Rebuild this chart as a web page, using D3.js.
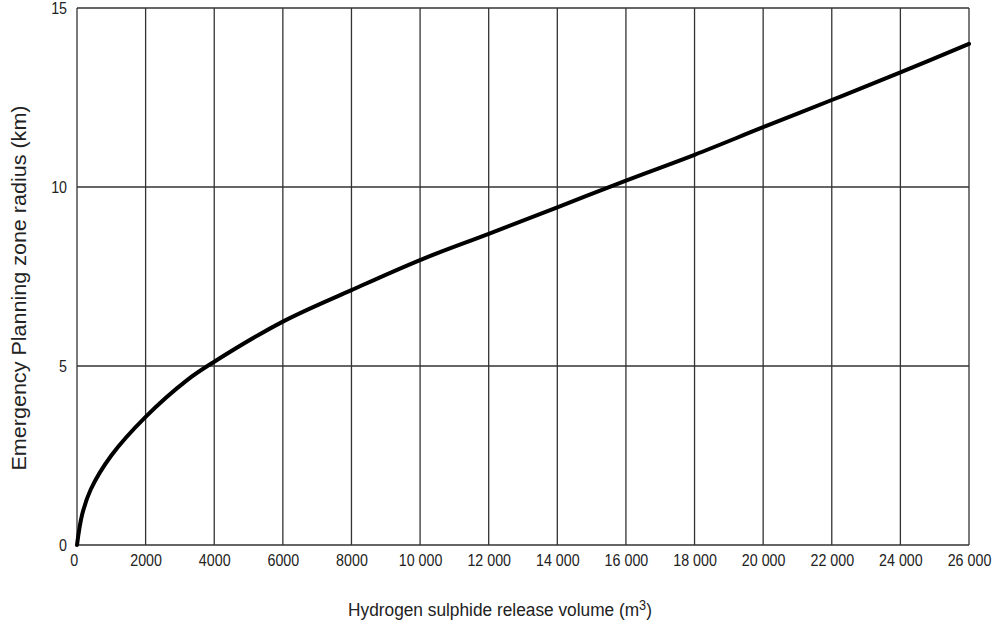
<!DOCTYPE html>
<html>
<head>
<meta charset="utf-8">
<script src="https://cdn.jsdelivr.net/npm/d3@7"></script>
<style>
  body { margin: 0; background: #fff; }
  text { font-family: 'Liberation Sans Narrow', 'Arial Narrow', 'Liberation Sans', Arial, sans-serif; fill: #222; }
</style>
</head>
<body>
<svg id="chart"></svg>
<script>
// release volume (m3)
const volumes = [0, 150, 400, 1000, 2000, 3200, 4000, 6000, 8000, 10000, 12000, 14000, 16000, 18000, 20000, 22000, 24000, 26000];
// emergency planning zone radius (km)
const radii = [0, 0.85, 1.55, 2.5, 3.58, 4.6, 5.12, 6.24, 7.12, 7.96, 8.69, 9.43, 10.18, 10.9, 11.67, 12.43, 13.2, 14.0];

const xTicks = [0, 2000, 4000, 6000, 8000, 10000, 12000, 14000, 16000, 18000, 20000, 22000, 24000, 26000];
const xTickLabels = ['0', '2000', '4000', '6000', '8000', '10 000', '12 000', '14 000', '16 000', '18 000', '20 000', '22 000', '24 000', '26 000'];
const yTicks = [0, 5, 10, 15];

const width = 995, height = 627;
const margin = {top: 8, right: 26, bottom: 82, left: 77};
const w = width - margin.left - margin.right;
const h = height - margin.top - margin.bottom;
const squeeze = 0.84; // narrow look of the original lettering

const svg = d3.select('#chart').attr('width', width).attr('height', height);
const g = svg.append('g').attr('transform', `translate(${margin.left},${margin.top})`);

const x = d3.scaleLinear().domain([0, 26000]).range([0, w]);
const y = d3.scaleLinear().domain([0, 15]).range([h, 0]);

// grid
g.append('g')
  .selectAll('line')
  .data(xTicks)
  .join('line')
  .attr('x1', d => x(d)).attr('x2', d => x(d))
  .attr('y1', 0).attr('y2', h)
  .attr('stroke', '#333').attr('stroke-width', 1.3);

g.append('g')
  .selectAll('line')
  .data(yTicks)
  .join('line')
  .attr('x1', 0).attr('x2', w)
  .attr('y1', d => y(d)).attr('y2', d => y(d))
  .attr('stroke', '#333').attr('stroke-width', 1.3);

// axes (labels only)
const xAxis = g.append('g')
  .attr('transform', `translate(0,${h})`)
  .call(d3.axisBottom(x).tickValues(xTicks).tickSize(0).tickPadding(9)
    .tickFormat((d, i) => xTickLabels[i]));
xAxis.select('.domain').remove();
xAxis.selectAll('text')
  .attr('font-size', 17).attr('font-family', null)
  .attr('transform', `scale(${squeeze},1)`);
xAxis.selectAll('.tick').filter(d => d === 0).select('text').attr('dx', -4);

const yAxis = g.append('g')
  .call(d3.axisLeft(y).tickValues(yTicks).tickSize(0));
yAxis.select('.domain').remove();
yAxis.selectAll('text')
  .attr('font-size', 17).attr('font-family', null)
  .attr('x', -10 / squeeze)
  .attr('transform', `scale(${squeeze},1)`);

// curve
const line = d3.line()
  .x((d, i) => x(volumes[i]))
  .y(d => y(d))
  .curve(d3.curveCatmullRom.alpha(0.5));

g.append('path')
  .datum(radii)
  .attr('d', line)
  .attr('fill', 'none')
  .attr('stroke', '#000')
  .attr('stroke-width', 4)
  .attr('stroke-linecap', 'round');

// titles
const xt = svg.append('text')
  .attr('transform', 'translate(500,616) scale(0.91,1)')
  .attr('text-anchor', 'middle')
  .attr('font-size', 19);
xt.append('tspan').text('Hydrogen sulphide release volume (m');
xt.append('tspan').attr('dy', -6).attr('font-size', 14).text('3');
xt.append('tspan').attr('dy', 6).text(')');

svg.append('text')
  .attr('transform', 'translate(26,288) rotate(-90)')
  .attr('text-anchor', 'middle')
  .attr('font-size', 20)
  .attr('textLength', 365)
  .attr('lengthAdjust', 'spacingAndGlyphs')
  .text('Emergency Planning zone radius (km)');
</script>
</body>
</html>
